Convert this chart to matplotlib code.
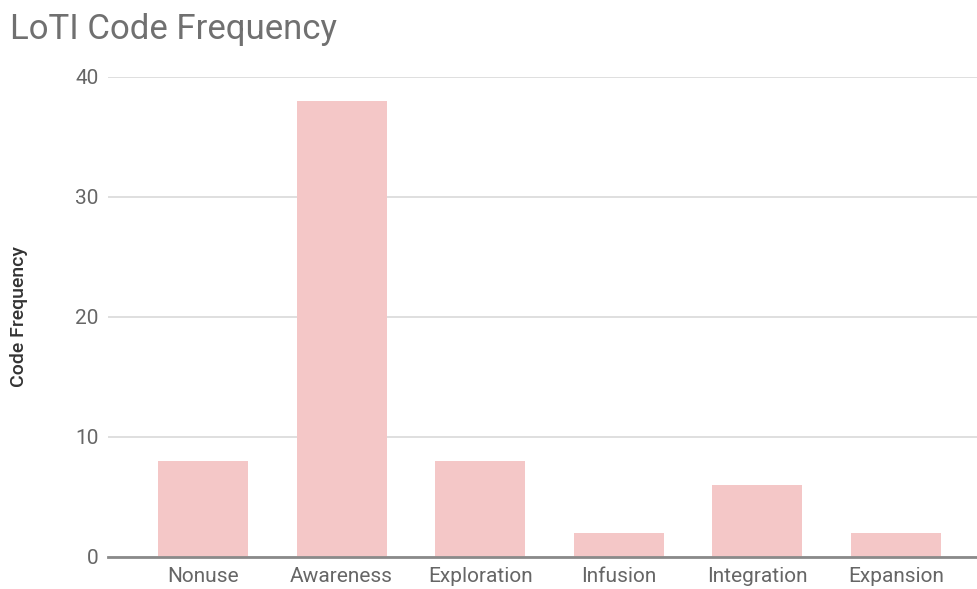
import matplotlib.pyplot as plt

categories = ["Nonuse", "Awareness", "Exploration", "Infusion", "Integration", "Expansion"]
counts = [8, 38, 8, 2, 6, 2]
yticks = [0, 10, 20, 30, 40]

plt.rcParams['font.family'] = ['Roboto', 'DejaVu Sans']

fig = plt.figure(figsize=(9.77, 5.89), dpi=100)
ax = fig.add_axes([108 / 977, 1 - 557 / 589, 1 - 108 / 977, (557 - 77) / 589])

x = range(len(categories))
ax.bar(x, counts, width=0.65, color='#f4c7c7', zorder=2)

ax.set_ylim(0, 40)
ax.set_xlim(-0.685, 5.584)
ax.set_yticks(yticks)
ax.set_xticks(list(x))
ax.set_xticklabels(categories)
ax.grid(axis='y', color='#d9d9d9', linewidth=1.2, zorder=0)
ax.set_axisbelow(True)
for s in ['top', 'right', 'left']:
    ax.spines[s].set_visible(False)
ax.spines['bottom'].set_color('#8a8a8a')
ax.spines['bottom'].set_linewidth(2)
ax.spines['bottom'].set_zorder(3)
ax.tick_params(axis='both', length=0, labelcolor='#666666', labelsize=15)
ax.tick_params(axis='y', pad=7)
ax.tick_params(axis='x', pad=7)

ax.set_ylabel("Code Frequency", fontsize=14, color='#333333', fontweight='medium', labelpad=34)
fig.text(10 / 977, 1 - 30 / 589, "LoTI Code Frequency", fontsize=25, color='#707070', va='center')

fig.savefig("out.png", dpi=100)
